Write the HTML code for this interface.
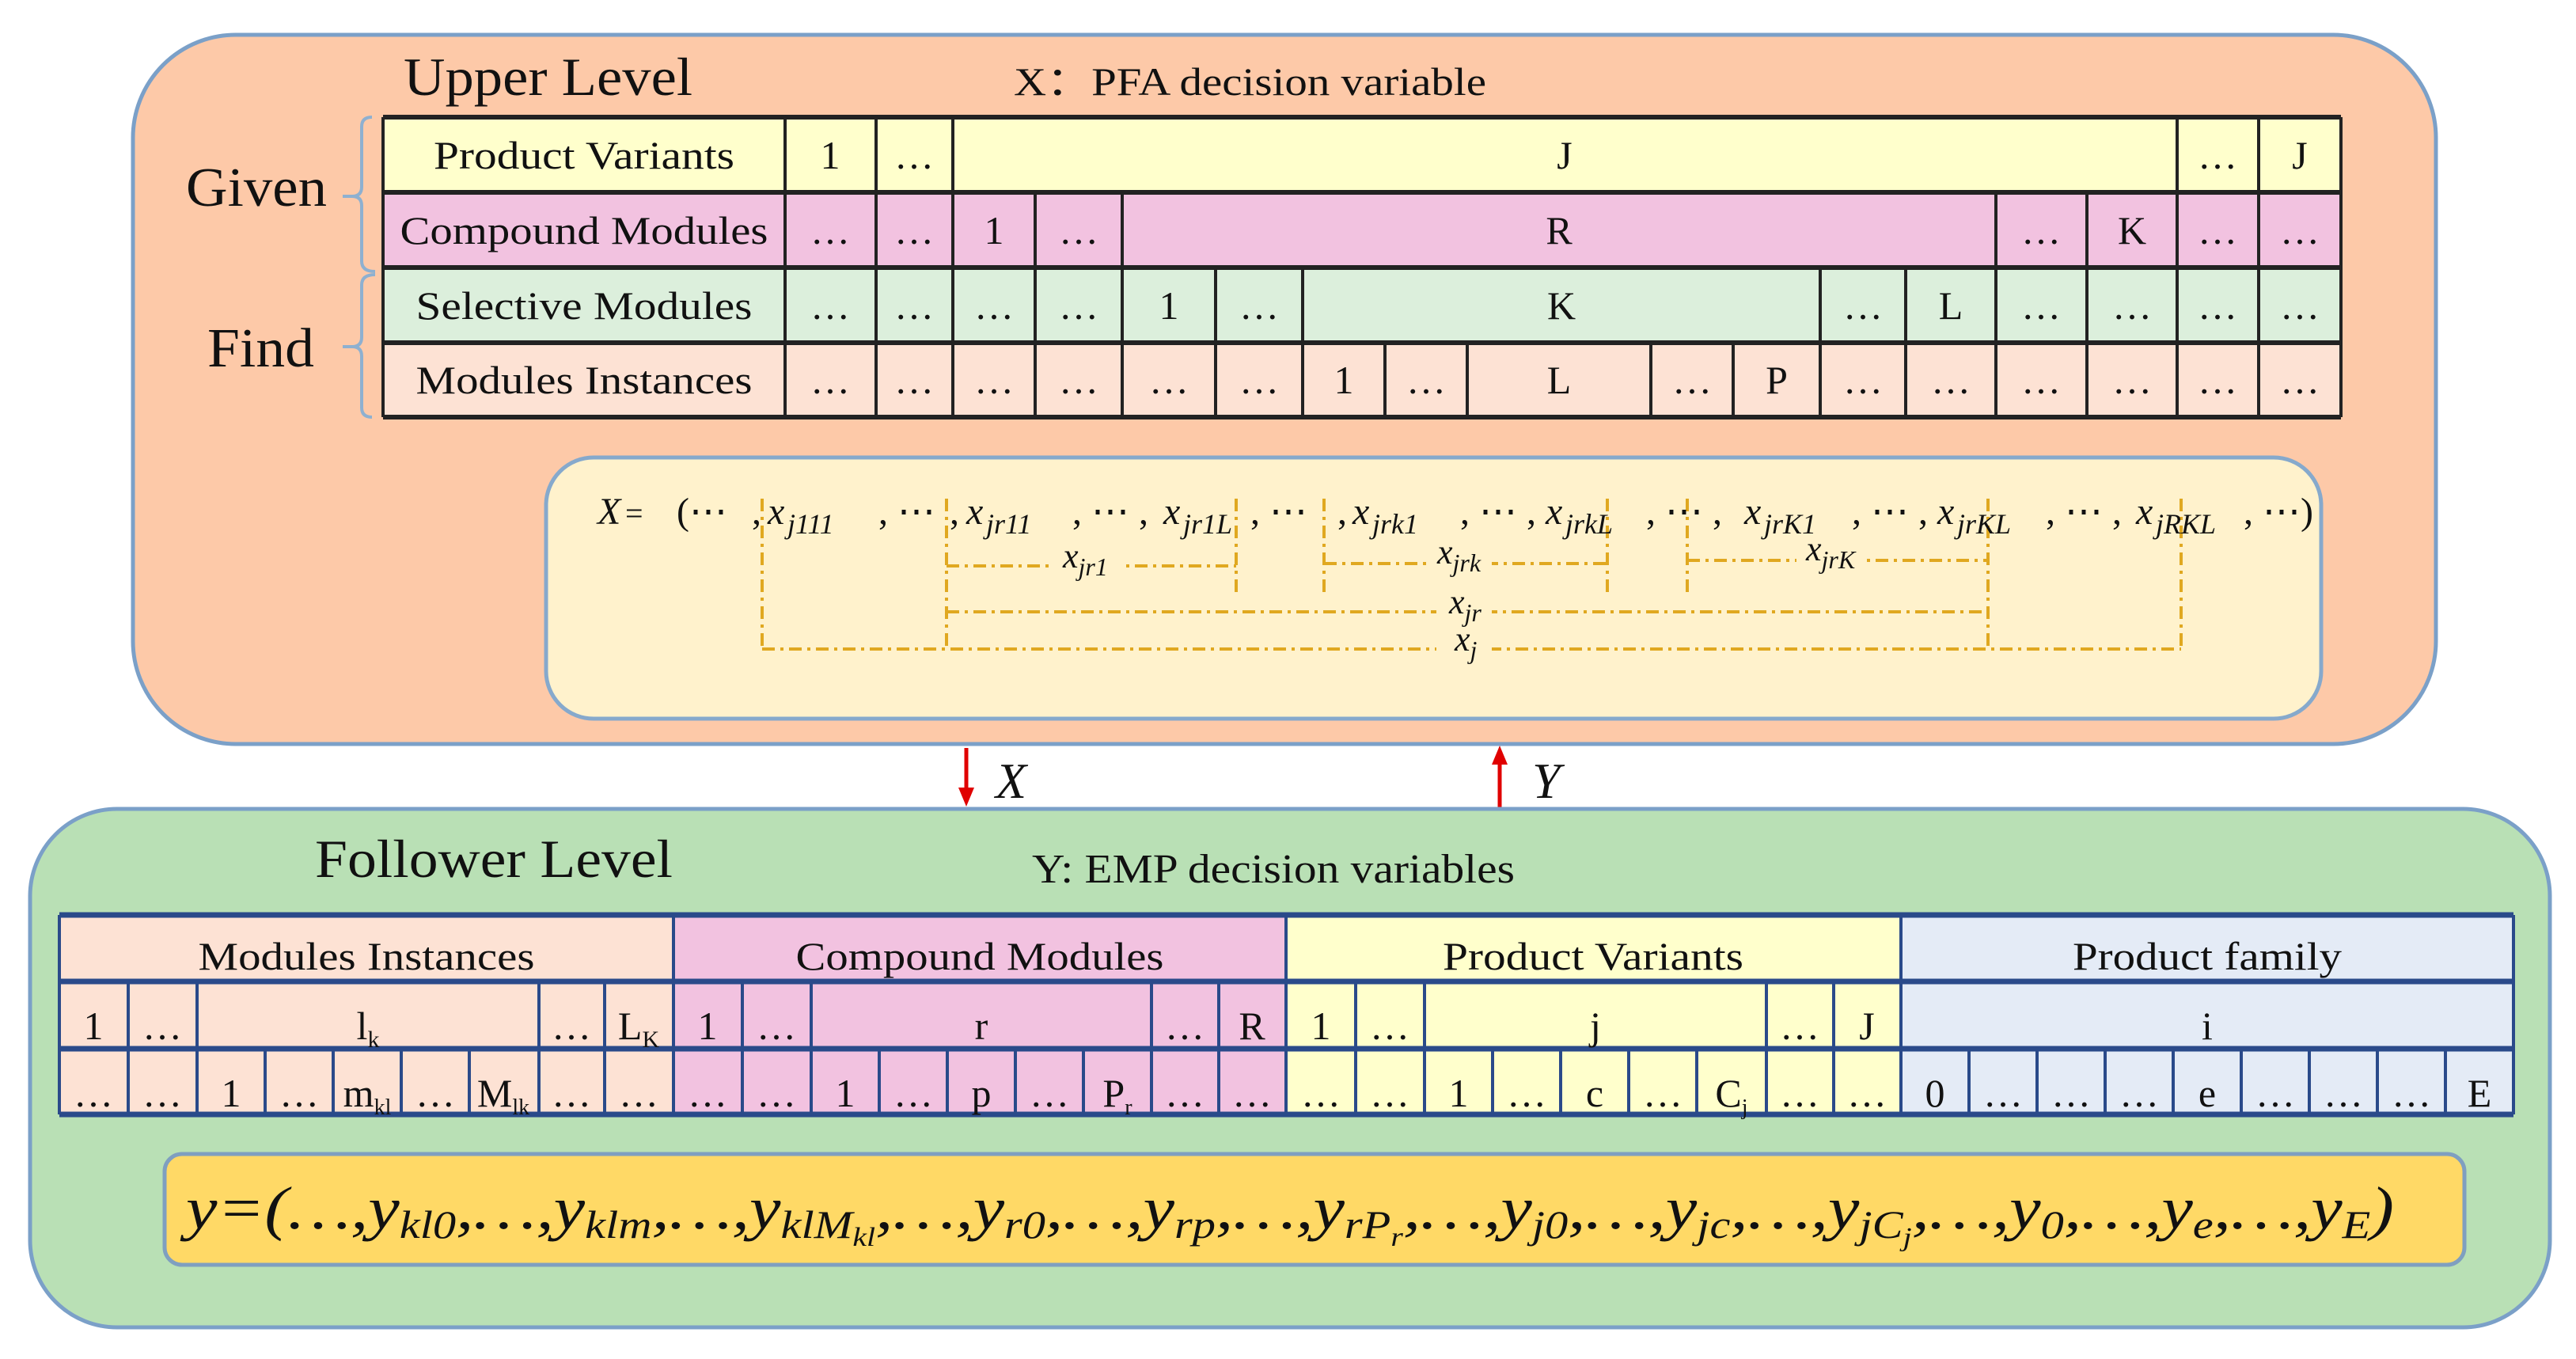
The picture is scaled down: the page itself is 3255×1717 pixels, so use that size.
<!DOCTYPE html>
<html><head><meta charset="utf-8"><style>
html,body{margin:0;padding:0;background:#fff;}
svg{display:block;}
text{font-family:"Liberation Serif",serif;fill:#111;}
.c{text-anchor:middle;font-size:50px;}
.m{font-style:italic;}
</style></head><body>
<svg width="3255" height="1717" viewBox="0 0 3255 1717" xmlns="http://www.w3.org/2000/svg">
<!-- Upper box -->
<rect x="168" y="44" width="2910" height="896" rx="130" fill="#fdc9a8" stroke="#7ba0c8" stroke-width="5"/>
<text x="510" y="120" font-size="68" textLength="365" lengthAdjust="spacingAndGlyphs">Upper Level</text>
<text x="1281" y="120" font-size="50" textLength="597" lengthAdjust="spacingAndGlyphs">X：PFA decision variable</text>
<text x="235" y="260" font-size="70" textLength="178" lengthAdjust="spacingAndGlyphs">Given</text>
<text x="262" y="463" font-size="70" textLength="135" lengthAdjust="spacingAndGlyphs">Find</text>
<g fill="none" stroke="#8eb0d0" stroke-width="4">
<path d="M470,148 Q457,148 457,160 L457,236 Q457,248 445,248 L433,248 M445,248 Q457,248 457,260 L457,330 Q457,343 474,343"/>
<path d="M474,347 Q457,347 457,360 L457,426 Q457,438 445,438 L433,438 M445,438 Q457,438 457,450 L457,515 Q457,527 470,527"/>
</g>
<!-- upper table rows -->
<rect x="484" y="148" width="2474" height="95" fill="#ffffcc"/>
<rect x="484" y="243" width="2474" height="95" fill="#f2c2e0"/>
<rect x="484" y="338" width="2474" height="95" fill="#dcefdc"/>
<rect x="484" y="433" width="2474" height="94" fill="#fde2d4"/>
<g stroke="#222" stroke-width="4">
<line x1="484" y1="148" x2="2958" y2="148" stroke-width="6"/>
<line x1="484" y1="243" x2="2958" y2="243" stroke-width="6"/>
<line x1="484" y1="338" x2="2958" y2="338" stroke-width="6"/>
<line x1="484" y1="433" x2="2958" y2="433" stroke-width="6"/>
<line x1="484" y1="527" x2="2958" y2="527" stroke-width="6"/>
<line x1="484" y1="148" x2="484" y2="527"/>
<line x1="2958" y1="148" x2="2958" y2="527"/>
<line x1="992" y1="148" x2="992" y2="527"/>
<line x1="1107" y1="148" x2="1107" y2="527"/>
<line x1="1204" y1="148" x2="1204" y2="527"/>
<line x1="2751" y1="148" x2="2751" y2="527"/>
<line x1="2854" y1="148" x2="2854" y2="527"/>
<line x1="1308" y1="243" x2="1308" y2="527"/>
<line x1="1418" y1="243" x2="1418" y2="527"/>
<line x1="2522" y1="243" x2="2522" y2="527"/>
<line x1="2637" y1="243" x2="2637" y2="527"/>
<line x1="1536" y1="338" x2="1536" y2="527"/>
<line x1="1646" y1="338" x2="1646" y2="527"/>
<line x1="2300" y1="338" x2="2300" y2="527"/>
<line x1="2408" y1="338" x2="2408" y2="527"/>
<line x1="1750" y1="433" x2="1750" y2="527"/>
<line x1="1854" y1="433" x2="1854" y2="527"/>
<line x1="2086" y1="433" x2="2086" y2="527"/>
<line x1="2190" y1="433" x2="2190" y2="527"/>
</g>
<g class="c" font-size="52">
<text class="c" x="738" y="213" textLength="380" lengthAdjust="spacingAndGlyphs">Product Variants</text>
<text class="c" x="738" y="308" textLength="465" lengthAdjust="spacingAndGlyphs">Compound Modules</text>
<text class="c" x="738" y="403" textLength="425" lengthAdjust="spacingAndGlyphs">Selective Modules</text>
<text class="c" x="738" y="497" textLength="425" lengthAdjust="spacingAndGlyphs">Modules Instances</text>
</g>
<g>
<text class="c" x="1049" y="213">1</text><text class="c" x="1155" y="213">…</text><text class="c" x="1977" y="213">J</text><text class="c" x="2802" y="213">…</text><text class="c" x="2906" y="213">J</text>
<text class="c" x="1049" y="308">…</text><text class="c" x="1155" y="308">…</text><text class="c" x="1256" y="308">1</text><text class="c" x="1363" y="308">…</text><text class="c" x="1970" y="308">R</text><text class="c" x="2579" y="308">…</text><text class="c" x="2694" y="308">K</text><text class="c" x="2802" y="308">…</text><text class="c" x="2906" y="308">…</text>
<text class="c" x="1049" y="403">…</text><text class="c" x="1155" y="403">…</text><text class="c" x="1256" y="403">…</text><text class="c" x="1363" y="403">…</text><text class="c" x="1477" y="403">1</text><text class="c" x="1591" y="403">…</text><text class="c" x="1973" y="403">K</text><text class="c" x="2354" y="403">…</text><text class="c" x="2465" y="403">L</text><text class="c" x="2579" y="403">…</text><text class="c" x="2694" y="403">…</text><text class="c" x="2802" y="403">…</text><text class="c" x="2906" y="403">…</text>
<text class="c" x="1049" y="497">…</text><text class="c" x="1155" y="497">…</text><text class="c" x="1256" y="497">…</text><text class="c" x="1363" y="497">…</text><text class="c" x="1477" y="497">…</text><text class="c" x="1591" y="497">…</text><text class="c" x="1698" y="497">1</text><text class="c" x="1802" y="497">…</text><text class="c" x="1970" y="497">L</text><text class="c" x="2138" y="497">…</text><text class="c" x="2245" y="497">P</text><text class="c" x="2354" y="497">…</text><text class="c" x="2465" y="497">…</text><text class="c" x="2579" y="497">…</text><text class="c" x="2694" y="497">…</text><text class="c" x="2802" y="497">…</text><text class="c" x="2906" y="497">…</text>
</g>
<!-- inner formula box -->
<rect x="690" y="578" width="2243" height="330" rx="60" fill="#fff2cc" stroke="#86a9cc" stroke-width="5"/>
<g fill="none" stroke="#e0a820" stroke-width="4" stroke-dasharray="16 7 4 7">
<line x1="963" y1="630" x2="963" y2="820"/><line x1="963" y1="820" x2="2756" y2="820"/><line x1="2756" y1="630" x2="2756" y2="820"/>
<line x1="1196" y1="630" x2="1196" y2="820"/><line x1="1196" y1="773" x2="2512" y2="773"/><line x1="2512" y1="630" x2="2512" y2="820"/>
<line x1="1196" y1="715" x2="1562" y2="715"/><line x1="1562" y1="630" x2="1562" y2="755"/>
<line x1="1673" y1="630" x2="1673" y2="755"/><line x1="1673" y1="712" x2="2031" y2="712"/><line x1="2031" y1="630" x2="2031" y2="755"/>
<line x1="2132" y1="630" x2="2132" y2="755"/><line x1="2132" y1="708" x2="2512" y2="708"/>
</g>
<g fill="#fff2cc">
<rect x="1330" y="690" width="90" height="50"/><rect x="1805" y="685" width="80" height="50"/><rect x="2270" y="682" width="85" height="50"/>
<rect x="1815" y="745" width="70" height="50"/><rect x="1815" y="795" width="70" height="50"/>
</g>
<g font-size="48">
<text x="755" y="662" class="m">X</text><text x="790" y="662" font-size="40">=</text><text x="855" y="662">(⋯</text>
<text x="950" y="662">,</text><text x="970" y="662" class="m">x</text><text x="995" y="674" class="m" font-size="36">j111</text><text x="1110" y="662">, ⋯</text>
<text x="1200" y="662">,</text><text x="1221" y="662" class="m">x</text><text x="1246" y="674" class="m" font-size="36">jr11</text><text x="1355" y="662">, ⋯ ,</text>
<text x="1470" y="662" class="m">x</text><text x="1495" y="674" class="m" font-size="36">jr1L</text><text x="1580" y="662">, ⋯</text>
<text x="1690" y="662">,</text><text x="1709" y="662" class="m">x</text><text x="1734" y="674" class="m" font-size="36">jrk1</text><text x="1845" y="662">, ⋯ ,</text>
<text x="1953" y="662" class="m">x</text><text x="1978" y="674" class="m" font-size="36">jrkL</text><text x="2080" y="662">, ⋯ ,</text>
<text x="2204" y="662" class="m">x</text><text x="2229" y="674" class="m" font-size="36">jrK1</text><text x="2340" y="662">, ⋯ ,</text>
<text x="2448" y="662" class="m">x</text><text x="2473" y="674" class="m" font-size="36">jrKL</text><text x="2585" y="662">, ⋯ ,</text>
<text x="2699" y="662" class="m">x</text><text x="2724" y="674" class="m" font-size="36">jRKL</text><text x="2835" y="662">, ⋯)</text>
<text x="1343" y="717" class="m" font-size="44">x<tspan font-size="32" dy="10">jr1</tspan></text>
<text x="1816" y="712" class="m" font-size="44">x<tspan font-size="32" dy="10">jrk</tspan></text>
<text x="2282" y="708" class="m" font-size="44">x<tspan font-size="32" dy="10">jrK</tspan></text>
<text x="1831" y="775" class="m" font-size="44">x<tspan font-size="32" dy="10">jr</tspan></text>
<text x="1838" y="822" class="m" font-size="44">x<tspan font-size="32" dy="10">j</tspan></text>
</g>
<!-- arrows -->
<g stroke="#e00000" stroke-width="5"><line x1="1221" y1="945" x2="1221" y2="1000"/><line x1="1895" y1="960" x2="1895" y2="1020"/></g>
<polygon points="1211,995 1231,995 1221,1019" fill="#e00000"/>
<polygon points="1885,966 1905,966 1895,942" fill="#e00000"/>
<text x="1258" y="1008" class="m" font-size="64">X</text>
<text x="1936" y="1008" class="m" font-size="64">Y</text>
<!-- lower box -->
<rect x="38" y="1022" width="3184" height="655" rx="110" fill="#b9e0b5" stroke="#7ba0c8" stroke-width="5"/>
<text x="398" y="1108" font-size="68" textLength="452" lengthAdjust="spacingAndGlyphs">Follower Level</text>
<text x="1304" y="1115" font-size="52" textLength="610" lengthAdjust="spacingAndGlyphs">Y: EMP decision variables</text>
<rect x="75" y="1156" width="776" height="252" fill="#fde2d4"/>
<rect x="851" y="1156" width="774" height="252" fill="#f2c2e0"/>
<rect x="1625" y="1156" width="777" height="252" fill="#ffffcc"/>
<rect x="2402" y="1156" width="774" height="252" fill="#e4ebf6"/>
<g stroke="#2a4a8a" stroke-width="4">
<line x1="75" y1="1156" x2="3176" y2="1156" stroke-width="7"/>
<line x1="75" y1="1240" x2="3176" y2="1240" stroke-width="7"/>
<line x1="75" y1="1325" x2="3176" y2="1325" stroke-width="7"/>
<line x1="75" y1="1408" x2="3176" y2="1408" stroke-width="7"/>
<line x1="75" y1="1156" x2="75" y2="1408"/><line x1="851" y1="1156" x2="851" y2="1408"/><line x1="1625" y1="1156" x2="1625" y2="1408"/><line x1="2402" y1="1156" x2="2402" y2="1408"/><line x1="3176" y1="1156" x2="3176" y2="1408"/>
<line x1="162" y1="1240" x2="162" y2="1408"/><line x1="249" y1="1240" x2="249" y2="1408"/><line x1="681" y1="1240" x2="681" y2="1408"/><line x1="764" y1="1240" x2="764" y2="1408"/>
<line x1="938" y1="1240" x2="938" y2="1408"/><line x1="1025" y1="1240" x2="1025" y2="1408"/><line x1="1455" y1="1240" x2="1455" y2="1408"/><line x1="1540" y1="1240" x2="1540" y2="1408"/>
<line x1="1713" y1="1240" x2="1713" y2="1408"/><line x1="1800" y1="1240" x2="1800" y2="1408"/><line x1="2232" y1="1240" x2="2232" y2="1408"/><line x1="2317" y1="1240" x2="2317" y2="1408"/>
<line x1="335" y1="1325" x2="335" y2="1408"/><line x1="421" y1="1325" x2="421" y2="1408"/><line x1="507" y1="1325" x2="507" y2="1408"/><line x1="593" y1="1325" x2="593" y2="1408"/>
<line x1="1111" y1="1325" x2="1111" y2="1408"/><line x1="1197" y1="1325" x2="1197" y2="1408"/><line x1="1283" y1="1325" x2="1283" y2="1408"/><line x1="1369" y1="1325" x2="1369" y2="1408"/>
<line x1="1886" y1="1325" x2="1886" y2="1408"/><line x1="1972" y1="1325" x2="1972" y2="1408"/><line x1="2058" y1="1325" x2="2058" y2="1408"/><line x1="2144" y1="1325" x2="2144" y2="1408"/>
<line x1="2488" y1="1325" x2="2488" y2="1408"/><line x1="2574" y1="1325" x2="2574" y2="1408"/><line x1="2660" y1="1325" x2="2660" y2="1408"/><line x1="2746" y1="1325" x2="2746" y2="1408"/><line x1="2832" y1="1325" x2="2832" y2="1408"/><line x1="2918" y1="1325" x2="2918" y2="1408"/><line x1="3004" y1="1325" x2="3004" y2="1408"/><line x1="3090" y1="1325" x2="3090" y2="1408"/>
</g>
<text class="c" x="463" y="1225" textLength="425" lengthAdjust="spacingAndGlyphs">Modules Instances</text>
<text class="c" x="1238" y="1225" textLength="465" lengthAdjust="spacingAndGlyphs">Compound Modules</text>
<text class="c" x="2013" y="1225" textLength="380" lengthAdjust="spacingAndGlyphs">Product Variants</text>
<text class="c" x="2789" y="1225" textLength="340" lengthAdjust="spacingAndGlyphs">Product family</text>
<g>
<text class="c" x="118" y="1313">1</text><text class="c" x="205" y="1313">…</text><text class="c" x="465" y="1313">l<tspan font-size="30" dy="10">k</tspan></text><text class="c" x="722" y="1313">…</text><text class="c" x="807" y="1313">L<tspan font-size="30" dy="10">K</tspan></text>
<text class="c" x="894" y="1313">1</text><text class="c" x="981" y="1313">…</text><text class="c" x="1240" y="1313">r</text><text class="c" x="1497" y="1313">…</text><text class="c" x="1582" y="1313">R</text>
<text class="c" x="1669" y="1313">1</text><text class="c" x="1756" y="1313">…</text><text class="c" x="2016" y="1313">j</text><text class="c" x="2274" y="1313">…</text><text class="c" x="2359" y="1313">J</text>
<text class="c" x="2789" y="1313">i</text>
<text class="c" x="118" y="1398">…</text><text class="c" x="205" y="1398">…</text><text class="c" x="292" y="1398">1</text><text class="c" x="378" y="1398">…</text><text class="c" x="464" y="1398">m<tspan font-size="28" dy="10">kl</tspan></text><text class="c" x="550" y="1398">…</text><text class="c" x="636" y="1398">M<tspan font-size="28" dy="10">lk</tspan></text><text class="c" x="722" y="1398">…</text><text class="c" x="807" y="1398">…</text>
<text class="c" x="894" y="1398">…</text><text class="c" x="981" y="1398">…</text><text class="c" x="1068" y="1398">1</text><text class="c" x="1154" y="1398">…</text><text class="c" x="1240" y="1398">p</text><text class="c" x="1326" y="1398">…</text><text class="c" x="1412" y="1398">P<tspan font-size="28" dy="10">r</tspan></text><text class="c" x="1497" y="1398">…</text><text class="c" x="1582" y="1398">…</text>
<text class="c" x="1669" y="1398">…</text><text class="c" x="1756" y="1398">…</text><text class="c" x="1843" y="1398">1</text><text class="c" x="1929" y="1398">…</text><text class="c" x="2015" y="1398">c</text><text class="c" x="2101" y="1398">…</text><text class="c" x="2188" y="1398">C<tspan font-size="28" dy="10">j</tspan></text><text class="c" x="2274" y="1398">…</text><text class="c" x="2359" y="1398">…</text>
<text class="c" x="2445" y="1398">0</text><text class="c" x="2531" y="1398">…</text><text class="c" x="2617" y="1398">…</text><text class="c" x="2703" y="1398">…</text><text class="c" x="2789" y="1398">e</text><text class="c" x="2875" y="1398">…</text><text class="c" x="2961" y="1398">…</text><text class="c" x="3047" y="1398">…</text><text class="c" x="3133" y="1398">E</text>
</g>
<!-- y formula bar -->
<rect x="208" y="1458" width="2906" height="140" rx="22" fill="#ffd966" stroke="#7f9fc0" stroke-width="5"/>
<text x="235" y="1552" class="m" font-size="76" textLength="2790" lengthAdjust="spacingAndGlyphs">y=(…,y<tspan font-size="50" dy="12">kl0</tspan><tspan dy="-12">,…,y</tspan><tspan font-size="50" dy="12">klm</tspan><tspan dy="-12">,…,y</tspan><tspan font-size="50" dy="12">klM</tspan><tspan font-size="34" dy="10">kl</tspan><tspan dy="-22">,…,y</tspan><tspan font-size="50" dy="12">r0</tspan><tspan dy="-12">,…,y</tspan><tspan font-size="50" dy="12">rp</tspan><tspan dy="-12">,…,y</tspan><tspan font-size="50" dy="12">rP</tspan><tspan font-size="34" dy="10">r</tspan><tspan dy="-22">,…,y</tspan><tspan font-size="50" dy="12">j0</tspan><tspan dy="-12">,…,y</tspan><tspan font-size="50" dy="12">jc</tspan><tspan dy="-12">,…,y</tspan><tspan font-size="50" dy="12">jC</tspan><tspan font-size="34" dy="10">j</tspan><tspan dy="-22">,…,y</tspan><tspan font-size="50" dy="12">0</tspan><tspan dy="-12">,…,y</tspan><tspan font-size="50" dy="12">e</tspan><tspan dy="-12">,…,y</tspan><tspan font-size="50" dy="12">E</tspan><tspan dy="-12">)</tspan></text>
</svg>
</body></html>
